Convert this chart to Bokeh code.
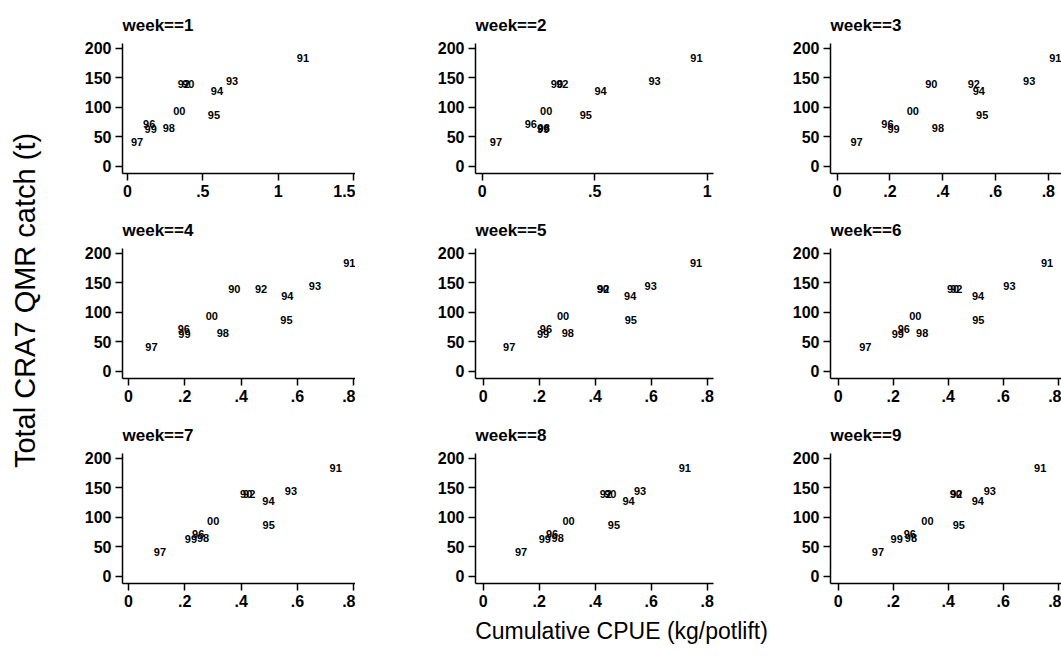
import math
from bokeh.plotting import figure
from bokeh.layouts import row, column
from bokeh.models import Range1d, FixedTicker, CustomJSTickFormatter, ColumnDataSource
from bokeh.core.properties import value
from bokeh.embed import file_html
from bokeh.resources import INLINE

# ---------------- data ----------------
years = ["90", "91", "92", "93", "94", "95", "96", "97", "98", "99", "00"]
catch_t = [139, 184, 140, 144, 127, 87, 71, 42, 65, 63, 94]

cpue_week1 = [0.350, 1.110, 0.320, 0.640, 0.540, 0.520, 0.090, 0.010, 0.220, 0.100, 0.290]
cpue_week2 = [0.296, 0.916, 0.320, 0.730, 0.490, 0.424, 0.180, 0.025, 0.237, 0.235, 0.248]
cpue_week3 = [0.326, 0.796, 0.487, 0.697, 0.506, 0.519, 0.160, 0.043, 0.351, 0.183, 0.256]
cpue_week4 = [0.347, 0.755, 0.442, 0.633, 0.535, 0.532, 0.168, 0.053, 0.306, 0.170, 0.267]
cpue_week5 = [0.398, 0.731, 0.400, 0.569, 0.496, 0.498, 0.195, 0.064, 0.273, 0.185, 0.256]
cpue_week6 = [0.388, 0.730, 0.400, 0.593, 0.479, 0.480, 0.209, 0.069, 0.276, 0.187, 0.251]
cpue_week7 = [0.389, 0.707, 0.400, 0.548, 0.468, 0.469, 0.219, 0.083, 0.236, 0.193, 0.272]
cpue_week8 = [0.425, 0.691, 0.409, 0.531, 0.490, 0.438, 0.217, 0.106, 0.237, 0.191, 0.276]
cpue_week9 = [0.398, 0.705, 0.400, 0.522, 0.478, 0.409, 0.231, 0.115, 0.235, 0.183, 0.295]
cpue_by_week = [cpue_week1, cpue_week2, cpue_week3, cpue_week4, cpue_week5,
                cpue_week6, cpue_week7, cpue_week8, cpue_week9]

y_ticks = [0, 50, 100, 150, 200]
x_ticks_week1 = [0, 0.5, 1, 1.5]
x_ticks_week2 = [0, 0.5, 1]
x_ticks_other = [0, 0.2, 0.4, 0.6, 0.8]

y_title = "Total CRA7 QMR catch (t)"
x_title = "Cumulative CPUE (kg/potlift)"

# ---------------- layout ----------------
FONT = value("Liberation Sans")
col_width = [305, 360, 346]
border_left = [72, 120, 115]
border_right = [0, 2, 0]
row_height = 205
x_ranges_row1 = [(-0.033, 1.513), (-0.030, 1.028), (-0.025, 0.850)]
x_ranges_rest = [(-0.021, 0.806), (-0.0275, 0.8225), (-0.028, 0.812)]

fmt = CustomJSTickFormatter(code="""
let s = String(Math.round(tick*10)/10);
return s.replace(/^0\\./, '.');
""")


def make_panel(w):
    r, c = divmod(w, 3)
    if r == 0:
        xr = x_ranges_row1[c]
        xt = [x_ticks_week1, x_ticks_week2, x_ticks_other][c]
    else:
        xr = x_ranges_rest[c]
        xt = x_ticks_other
    p = figure(width=col_width[c], height=row_height, output_backend="svg",
               toolbar_location=None, x_range=Range1d(*xr), y_range=Range1d(-12, 208),
               min_border_left=border_left[c], min_border_right=border_right[c],
               min_border_top=43, min_border_bottom=32,
               title="week==%d" % (w + 1))
    p.title.align = "left"
    p.title.text_font = "Liberation Sans"
    p.title.text_font_size = "17px"
    p.title.text_font_style = "bold"
    p.title.text_color = "black"
    p.title.standoff = 17
    p.outline_line_color = None
    p.xgrid.visible = False
    p.ygrid.visible = False
    p.background_fill_color = "white"
    p.border_fill_color = "white"
    p.xaxis.ticker = FixedTicker(ticks=xt)
    p.yaxis.ticker = FixedTicker(ticks=y_ticks)
    p.xaxis.formatter = fmt
    for ax in (p.xaxis, p.yaxis):
        ax.axis_line_color = "black"
        ax.axis_line_width = 1.5
        ax.major_tick_line_color = "black"
        ax.major_tick_line_width = 1.5
        ax.major_tick_out = 7
        ax.major_tick_in = 0
        ax.minor_tick_line_color = None
        ax.major_label_standoff = 4
        ax.major_label_text_font = "Liberation Sans"
        ax.major_label_text_font_size = "16px"
        ax.major_label_text_font_style = "bold"
        ax.major_label_text_color = "black"
    src = ColumnDataSource(dict(x=cpue_by_week[w], y=catch_t, t=years))
    p.text(x="x", y="y", text="t", source=src, x_offset=2,
           text_align="left", text_baseline="middle",
           text_font=FONT, text_font_size="11px", text_font_style="bold",
           text_color="black")
    return p


panels = [make_panel(w) for w in range(9)]
rows = [row(*panels[i * 3:(i + 1) * 3], spacing=0) for i in range(3)]

# x axis title strip
xlab = figure(width=1011, height=43, output_backend="svg", toolbar_location=None,
              x_range=Range1d(0, 1011), y_range=Range1d(0, 43),
              min_border=0, outline_line_color=None)
xlab.axis.visible = False
xlab.grid.visible = False
xlab.text(x=[571], y=[28], text=[x_title], text_align="center", text_baseline="middle",
          text_font=FONT, text_font_size="23px", text_color="black")

# y axis title strip
ylab = figure(width=50, height=658, output_backend="svg", toolbar_location=None,
              x_range=Range1d(0, 50), y_range=Range1d(0, 658),
              min_border=0, outline_line_color=None)
ylab.axis.visible = False
ylab.grid.visible = False
ylab.text(x=[24], y=[358], text=[y_title], angle=math.pi / 2,
          text_align="center", text_baseline="middle",
          text_font=FONT, text_font_size="29px", text_color="black")

root = row(ylab, column(*rows, xlab, spacing=0), spacing=0)

open("out.html", "w").write(file_html(root, INLINE))
